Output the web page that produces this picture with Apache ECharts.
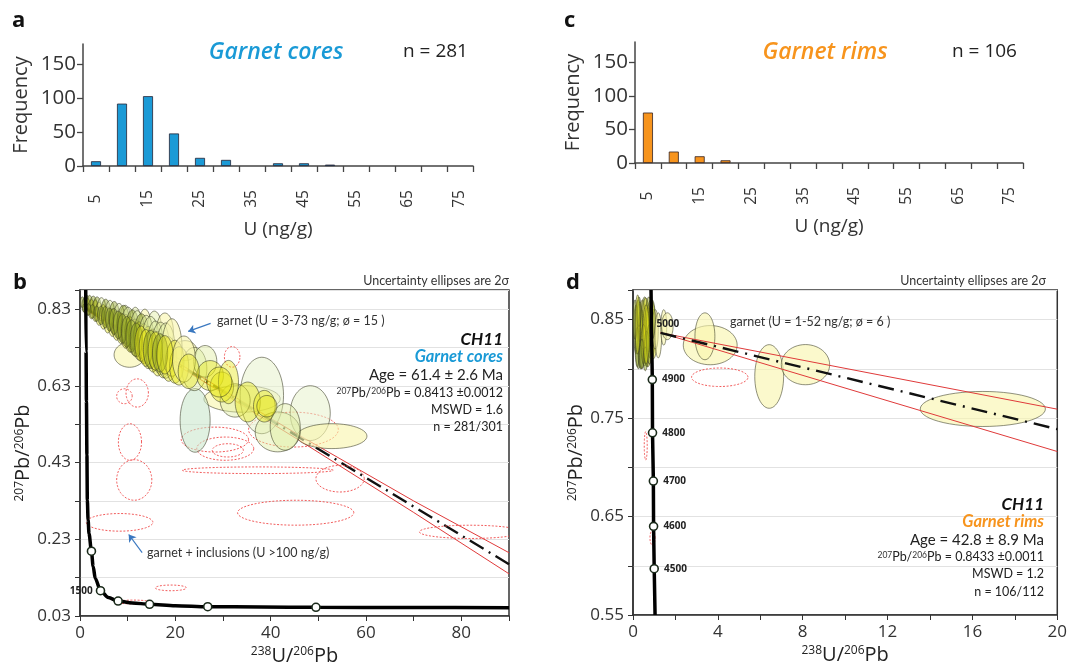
<!DOCTYPE html>
<html><head><meta charset="utf-8">
<script src="https://cdn.jsdelivr.net/npm/echarts@6/dist/echarts.min.js"></script>
<style>html,body{margin:0;padding:0;background:#fff}#c{width:1070px;height:671px}</style>
</head><body><div id="c"></div>
<script>
// ---------- DATA ----------
const binLabels = ['5','10','15','20','25','30','35','40','45','50','55','60','65','70','75'];
const coresFreq = [7,92,103,48,12,9,0,4,4,2,0,0,0,0,0];
const rimsFreq  = [75,17,10,4,0,0,0,0,0,0,0,0,0,0,0];

// Tera-Wasserburg: [238U/206Pb, 207Pb/206Pb, halfWidthX, halfWidthY, tone]
const coreEllipses = [
 [34,0.596,8.0,0.0347,1],[38.15,0.605,4.55,0.0997,5],[48.3,0.559,4.2,0.0715,5],[52.85,0.499,7.35,0.0325,1],
 [24.15,0.54,3.15,0.083,2],[41.48,0.51,4.73,0.052,3],[43.05,0.523,3.15,0.0607,3],[10.4,0.711,3.25,0.0325,1],
 [32.55,0.592,3.15,0.0434,3],[35.18,0.588,2.63,0.052,0],[38.68,0.577,2.28,0.0412,0],[39.2,0.577,2.1,0.028,0],
 [22.05,0.722,2.45,0.026,1],[23.98,0.674,2.63,0.0564,3],[26.25,0.694,2.45,0.0412,3],[27.3,0.657,2.8,0.039,0],
 [29.75,0.627,2.45,0.039,0],[31.15,0.64,2.1,0.0564,0],[29.23,0.64,2.63,0.039,0],
 [9.5,0.805,1.1,0.035,3],[11.6,0.795,1.2,0.04,3],[13.6,0.785,1.3,0.045,1],[15.6,0.78,1.5,0.045,3],[17.8,0.77,1.8,0.05,1],
 [0.5,0.848,0.45,0.014,4],[0.9,0.84,0.5,0.018,4],[1.3,0.852,0.5,0.016,4],[1.6,0.836,0.6,0.022,0],[2.0,0.846,0.6,0.02,4],
 [2.4,0.83,0.65,0.025,0],[2.8,0.842,0.7,0.022,4],[3.2,0.826,0.7,0.028,0],[3.6,0.836,0.8,0.026,4],[4.0,0.818,0.75,0.03,0],
 [4.5,0.83,0.9,0.03,3],[4.9,0.81,0.8,0.032,0],[5.4,0.822,1.0,0.034,4],[5.8,0.802,0.85,0.034,0],[6.3,0.815,1.0,0.038,3],
 [6.8,0.795,0.9,0.036,0],[7.2,0.808,1.1,0.042,4],[7.7,0.787,1.0,0.038,0],[8.2,0.8,1.2,0.045,3],[8.6,0.78,1.0,0.04,0],
 [9.1,0.792,1.3,0.048,4],[9.6,0.772,1.1,0.044,0],[10.1,0.785,1.4,0.05,3],[10.5,0.764,1.2,0.046,0],[11.0,0.776,1.4,0.052,4],
 [11.5,0.756,1.3,0.048,0],[12.0,0.77,1.5,0.056,3],[12.4,0.747,1.3,0.05,0],[12.9,0.76,1.6,0.058,4],[13.4,0.74,1.4,0.052,0],
 [13.9,0.752,1.6,0.062,3],[14.3,0.73,1.5,0.055,0],[14.8,0.745,1.8,0.066,3],[15.3,0.722,1.5,0.056,0],[15.8,0.735,1.7,0.064,3],
 [16.3,0.714,1.6,0.058,0],[16.9,0.728,1.9,0.068,3],[17.4,0.706,1.6,0.055,0],[18.0,0.722,2.0,0.072,3],[18.6,0.70,1.7,0.058,0],
 [19.3,0.73,2.1,0.075,1],[19.9,0.693,1.9,0.056,0],[20.8,0.682,2.0,0.05,0],[21.8,0.70,2.4,0.06,1],[22.8,0.668,2.2,0.045,0],
 [1.0,0.833,0.4,0.012,4],[1.8,0.829,0.5,0.015,4],[2.6,0.824,0.55,0.018,4],[3.5,0.818,0.6,0.02,4],[4.4,0.814,0.7,0.024,4],
 [5.3,0.809,0.75,0.028,4],[6.2,0.803,0.8,0.03,4],[7.1,0.798,0.9,0.034,4],[8.0,0.789,1.0,0.036,4],[8.9,0.78,1.0,0.038,4],
 [9.8,0.771,1.1,0.04,4],[10.8,0.76,1.2,0.042,4],[11.8,0.75,1.3,0.044,4],[12.8,0.74,1.3,0.046,0],[13.8,0.729,1.4,0.048,0],
 [14.8,0.725,1.5,0.05,4],[15.8,0.721,1.5,0.05,0],[16.8,0.716,1.6,0.05,4],[17.8,0.711,1.7,0.05,0]
];
const coreInclusionEllipses = [
 [9.32,0.603,1.63,0.0195],[12.0,0.6115,2.35,0.0368],[10.48,0.4836,2.43,0.0477],[11.38,0.3847,3.69,0.0529],
 [8.30,0.2742,6.99,0.023],[19.06,0.1033,3.26,0.0074],[11.2,0.0665,3.5,0.005],[45.25,0.2993,12.2,0.0325],
 [37.28,0.41,15.83,0.0087],[54.56,0.388,5.07,0.0347],[81.9,0.2494,10.7,0.0173],[28.3,0.49,7.06,0.0325],
 [30.47,0.4663,5.98,0.0303],[31.01,0.4619,3.26,0.0173],[44.78,0.516,9.42,0.0455],[31.92,0.7056,1.63,0.0269]
];
const rimEllipses = [
 [0.15,0.84,0.12,0.025,4],[0.25,0.835,0.15,0.035,4],[0.32,0.848,0.12,0.02,0],[0.4,0.83,0.18,0.03,4],
 [0.45,0.845,0.15,0.025,0],[0.55,0.838,0.2,0.035,4],[0.6,0.852,0.15,0.02,0],[0.7,0.832,0.2,0.03,0],
 [0.75,0.845,0.18,0.028,4],[0.85,0.84,0.22,0.03,0],[0.95,0.835,0.2,0.025,0],[0.2,0.822,0.1,0.02,4],
 [0.35,0.812,0.1,0.012,4],[0.5,0.825,0.12,0.02,0],[0.65,0.82,0.12,0.018,4],[1.05,0.84,0.15,0.02,1],
 [0.1,0.85,0.1,0.02,4],[0.28,0.858,0.1,0.015,4],[0.42,0.815,0.12,0.015,4],[0.58,0.81,0.1,0.012,4],
 [0.78,0.825,0.14,0.02,4],[0.9,0.85,0.15,0.02,4],[0.22,0.845,0.12,0.03,0],[0.62,0.835,0.16,0.03,0],
 [1.19,0.834,0.16,0.0229,1],[1.45,0.842,0.14,0.018,1],[1.62,0.8432,0.27,0.0136,1],
 [3.64,0.824,1.27,0.0199,1],[3.39,0.833,0.47,0.0238,1],[6.42,0.7922,0.68,0.0323,1],[8.13,0.8042,1.14,0.0204,1],
 [16.49,0.7592,2.95,0.0178,1]
];
const rimInclusionEllipses = [[4.09,0.7914,1.33,0.0094],[0.60,0.7218,0.07,0.0144],[0.92,0.6284,0.12,0.0076]];

// concordia curves
const concordiaB = [[1.2,0.88],[1.27,0.72],[1.35,0.59],[1.45,0.45],[1.54,0.332],[1.7,0.28],[1.89,0.245],[2.4,0.199],
 [2.75,0.160],[3.2,0.128],[4.3,0.096],[5.95,0.078],[8.0,0.069],[11,0.064],[14.6,0.0605],[20,0.057],[26.8,0.0542],[38,0.0535],
 [49.5,0.0527],[70,0.052],[90,0.0515]];
const concordiaTicksB = [[2.4,0.199,''],[4.3,0.096,'1500'],[8.0,0.069,''],[14.6,0.0605,''],[26.8,0.0542,''],[49.5,0.0527,'']];
const concordiaD = [[0.85,0.88],[0.87,0.845],[0.91,0.789],[0.92,0.735],[0.96,0.686],[0.97,0.64],[1.0,0.597],[1.04,0.55]];
const concordiaTicksD = [[0.87,0.845,5000],[0.91,0.789,4900],[0.92,0.735,4800],[0.96,0.686,4700],[0.97,0.64,4600],[1.0,0.597,4500]];

// regression lines and 2σ envelopes
const discordiaB = [[1.0,0.8338],[90,0.165]];
const envUpperB = [[1.0,0.838],[20,0.694],[46,0.501],[70,0.330],[90,0.195]];
const envLowerB = [[1.0,0.830],[20,0.687],[46,0.488],[70,0.300],[90,0.140]];
const discordiaD = [[1.3,0.8364],[20,0.7387]];
const envUpperD = [[1.3,0.8365],[20,0.759]];
const envLowerD = [[1.3,0.8365],[20,0.716]];

// ---------- CHART ----------
const FONT = "'Open Sans','Noto Sans',sans-serif";
const AFONT = "Lato,'Open Sans',sans-serif";
const TONES = ['rgba(232,230,20,0.42)','rgba(249,245,172,0.62)','rgba(198,230,200,0.55)',
               'rgba(224,238,162,0.45)','rgba(140,160,30,0.45)','rgba(232,243,204,0.55)'];
const chart = echarts.init(document.getElementById('c'));

function ellipseSeries(data, xi, red){
  return {
    type:'custom', xAxisIndex:xi, yAxisIndex:xi, clip:true, z: 3, encode:{x:0,y:1},
    data: data,
    renderItem: function(params, api){
      const cx=api.value(0), cy=api.value(1), rx=api.value(2), ry=api.value(3), tone=api.value(4);
      const pts=[];
      for(let i=0;i<56;i++){const t=i/56*Math.PI*2; pts.push(api.coord([cx+rx*Math.cos(t), cy+ry*Math.sin(t)]));}
      return {type:'polygon', shape:{points:pts},
        style: red ? {fill:'none', stroke:'#ef4a4a', lineWidth:0.9, lineDash:[2,1.6]}
                   : {fill:TONES[tone]||TONES[1], stroke:'rgba(55,58,35,0.8)', lineWidth:0.7}};
    }
  };
}
function lineSeries(data, xi, style, z){
  return {type:'line', xAxisIndex:xi, yAxisIndex:xi, data:data, symbol:'none', z:z||2,
    lineStyle:style, silent:true, animation:false};
}
function barData(arr){ return arr.map(v=> v===0 ? {value:0, itemStyle:{borderWidth:0}} : v); }
const sup = {fontSize:12, fontFamily:FONT, verticalAlign:'top', color:'#222'};
function histX(gi){
  return {type:'category', gridIndex:gi, data:binLabels, boundaryGap:true,
    axisLine:{lineStyle:{color:'#444',width:1.5}},
    axisTick:{show:true, interval:0, length:6, lineStyle:{color:'#444',width:1.3}},
    axisLabel:{interval:1, rotate:90, align:'center', verticalAlign:'middle', margin:33, fontSize:15.5, color:'#333', fontFamily:FONT},
    name:'U (ng/g)', nameLocation:'middle', nameGap:54, nameTextStyle:{fontSize:19, color:'#333', fontFamily:FONT}};
}
function histY(gi){
  return {type:'value', gridIndex:gi, min:0, max:180, interval:50,
    axisLine:{show:true, lineStyle:{color:'#444',width:1.5}},
    axisTick:{show:true, length:6, customValues:[0,50,100,150], lineStyle:{color:'#444',width:1.3}},
    axisLabel:{customValues:[0,50,100,150], fontSize:20.5, color:'#333', margin:7, fontFamily:FONT},
    splitLine:{show:false},
    name:'Frequency', nameLocation:'middle', nameGap:52, nameTextStyle:{fontSize:20, color:'#333', fontFamily:FONT}};
}
function twX(gi, max, interval, labelEvery){
  return {type:'value', gridIndex:gi, min:0, max:max, interval:interval,
    axisLine:{lineStyle:{color:'#333',width:1.5}},
    axisTick:{show:true, length:5, lineStyle:{color:'#333'}},
    axisLabel:{fontSize:17, color:'#333', margin:9, fontFamily:FONT,
      formatter:v=> (Math.abs(v/labelEvery-Math.round(v/labelEvery))<1e-6 ? String(v) : '')},
    splitLine:{show:false},
    name:'{s|238}U/{s|206}Pb', nameLocation:'middle', nameGap:30,
    nameTextStyle:{fontSize:20, color:'#222', fontFamily:FONT, rich:{s:sup}}};
}
function twY(gi, min, max, interval, labelEvery){
  return {type:'value', gridIndex:gi, min:min, max:max, interval:interval,
    axisLine:{lineStyle:{color:'#333',width:1.5}},
    axisTick:{show:true, length:5, lineStyle:{color:'#333'}},
    axisLabel:{fontSize:17, color:'#333', margin:9, fontFamily:FONT,
      formatter:v=>{const k=(v-min)/labelEvery; return (Math.abs(k-Math.round(k))<1e-6 && v<max-1e-6) ? v.toFixed(2) : '';}},
    splitLine:{show:true, lineStyle:{color:'#e2e2e2', width:1}},
    name:'{s|207}Pb/{s|206}Pb', nameLocation:'middle', nameGap:46,
    nameTextStyle:{fontSize:20, color:'#222', fontFamily:FONT, rich:{s:sup}}};
}
function txt(x,y,text,opt){
  return {type:'text', x:x, y:y, z:100, silent:true, style:Object.assign({text:text, fontFamily:AFONT, fontSize:12.5,
    fill:'#333', align:'left', verticalAlign:'middle'}, opt||{})};
}
const s9 = {s:{fontSize:8.5, fontFamily:AFONT, verticalAlign:'top', fill:'#333'}};

const option = {
  animation:false,
  backgroundColor:'#fff',
  grid:[
    {left:83, top:44, width:390, height:122},
    {left:635, top:42, width:388, height:121},
    {left:80, top:290, width:429, height:326, show:true, borderColor:'#333', borderWidth:1.5, backgroundColor:'transparent'},
    {left:633, top:290, width:425, height:325, show:true, borderColor:'#333', borderWidth:1.5, backgroundColor:'transparent'}
  ],
  xAxis:[histX(0), histX(1), twX(2,90,10,20), twX(3,20,2,4)],
  yAxis:[histY(0), histY(1), twY(2,0.03,0.88,0.1,0.2), twY(3,0.55,0.88,0.05,0.1)],
  series:[
    {type:'bar', xAxisIndex:0, yAxisIndex:0, data:barData(coresFreq), barWidth:10,
      itemStyle:{color:'#1b9ad6', borderColor:'#223', borderWidth:0.8}},
    {type:'bar', xAxisIndex:1, yAxisIndex:1, data:barData(rimsFreq), barWidth:10,
      itemStyle:{color:'#f7941d', borderColor:'#322', borderWidth:0.8}},
    lineSeries(envUpperB, 2, {color:'#e03a3a', width:1}),
    lineSeries(envLowerB, 2, {color:'#e03a3a', width:1}),
    lineSeries(discordiaB, 2, {color:'#111', width:2.4, type:[16,6,2,6]}),
    ellipseSeries(coreInclusionEllipses, 2, true),
    ellipseSeries(coreEllipses, 2, false),
    Object.assign(lineSeries(concordiaB, 2, {color:'#000', width:3.5}, 4), {smooth:0.3, smoothMonotone:'x'}),
    {type:'scatter', xAxisIndex:2, yAxisIndex:2, z:5, symbol:'circle', symbolSize:8,
      itemStyle:{color:'#fff', borderColor:'#1a2a1a', borderWidth:1.6, opacity:1},
      label:{show:true, position:'left', distance:3, fontSize:10, fontWeight:'bold', color:'#222', fontFamily:FONT,
        formatter:p=>p.data[2]},
      data:concordiaTicksB},
    ellipseSeries(rimInclusionEllipses, 3, true),
    ellipseSeries(rimEllipses, 3, false),
    lineSeries(envUpperD, 3, {color:'#e03a3a', width:1}, 4),
    lineSeries(envLowerD, 3, {color:'#e03a3a', width:1}, 4),
    lineSeries(discordiaD, 3, {color:'#111', width:2.4, type:[16,7,2,7]}, 4),
    lineSeries(concordiaD, 3, {color:'#000', width:3.5}, 4),
    {type:'scatter', xAxisIndex:3, yAxisIndex:3, z:5, symbol:'circle',
      symbolSize:v=> v[2]>=5000 ? 0 : 8,
      itemStyle:{color:'#fff', borderColor:'#1a2a1a', borderWidth:1.6, opacity:1},
      label:{show:true, position:'right', distance:5, fontSize:10, fontWeight:'bold', color:'#222', fontFamily:FONT,
        formatter:p=>String(p.data[2])},
      data:concordiaTicksD},
    {type:'lines', coordinateSystem:'cartesian2d', xAxisIndex:2, yAxisIndex:2, z:6,
      symbol:['none','arrow'], symbolSize:7, lineStyle:{color:'#3a78c0', width:1.2, opacity:1},
      data:[{coords:[[27.4,0.793],[22.7,0.772]]},{coords:[[13.04,0.195],[10.22,0.2425]]}]}
  ],
  graphic:[
    txt(12,21,'a',{fontFamily:FONT, fontSize:22, fontWeight:'bold', fill:'#111'}),
    txt(564,21,'c',{fontFamily:FONT, fontSize:22, fontWeight:'bold', fill:'#111'}),
    txt(13,283,'b',{fontFamily:FONT, fontSize:22, fontWeight:'bold', fill:'#111'}),
    txt(566,283,'d',{fontFamily:FONT, fontSize:22, fontWeight:'bold', fill:'#111'}),
    txt(276,52,'Garnet cores',{fontFamily:FONT, fontSize:23, fontStyle:'italic', fontWeight:600, fill:'#1a9ad6', align:'center'}),
    txt(403,52,'n = 281',{fontFamily:FONT, fontSize:19, fill:'#222'}),
    txt(825,52,'Garnet rims',{fontFamily:FONT, fontSize:23, fontStyle:'italic', fontWeight:600, fill:'#f7941d', align:'center'}),
    txt(952,52,'n = 106',{fontFamily:FONT, fontSize:19, fill:'#222'}),
    // panel b
    txt(509,281,'Uncertainty ellipses are 2σ',{fontSize:12.5, align:'right'}),
    txt(217,321,'garnet (U = 3-73 ng/g; ø = 15 )',{fontSize:12.5}),
    txt(147,553,'garnet + inclusions (U >100 ng/g)',{fontSize:12.5}),
    txt(503,340,'CH11',{fontSize:17, fontWeight:'bold', fontStyle:'italic', fill:'#111', align:'right'}),
    txt(503,357,'Garnet cores',{fontSize:16.5, fontStyle:'italic', fontWeight:'bold', fill:'#1a9ad6', align:'right'}),
    txt(503,375,'Age = 61.4 ± 2.6 Ma',{fontSize:15, fill:'#222', align:'right'}),
    txt(503,393,'{s|207}Pb/{s|206}Pb = 0.8413 ±0.0012',{fontSize:12.5, fill:'#222', align:'right', rich:s9}),
    txt(503,410,'MSWD = 1.6',{fontSize:12.5, fill:'#222', align:'right'}),
    txt(503,427,'n = 281/301',{fontSize:12.5, fill:'#222', align:'right'}),
    // panel d
    txt(1046,281,'Uncertainty ellipses are 2σ',{fontSize:12.5, align:'right'}),
    txt(730,322,'garnet (U = 1-52 ng/g; ø = 6 )',{fontSize:12.5}),
    txt(1044,505,'CH11',{fontSize:17, fontWeight:'bold', fontStyle:'italic', fill:'#111', align:'right'}),
    txt(1044,522,'Garnet rims',{fontSize:16.5, fontStyle:'italic', fontWeight:'bold', fill:'#f7941d', align:'right'}),
    txt(1044,540,'Age = 42.8 ± 8.9 Ma',{fontSize:15, fill:'#222', align:'right'}),
    txt(1044,557,'{s|207}Pb/{s|206}Pb = 0.8433 ±0.0011',{fontSize:12.5, fill:'#222', align:'right', rich:s9}),
    txt(1044,574,'MSWD = 1.2',{fontSize:12.5, fill:'#222', align:'right'}),
    txt(1044,592,'n = 106/112',{fontSize:12.5, fill:'#222', align:'right'})
  ]
};
chart.setOption(option);
</script>
</body></html>
